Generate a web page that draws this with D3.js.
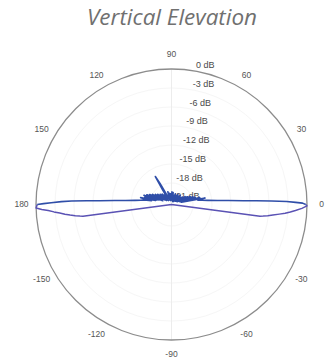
<!DOCTYPE html>
<html>
<head>
<meta charset="utf-8">
<script src="https://cdn.jsdelivr.net/npm/d3@7"></script>
<style>
  html, body { margin: 0; padding: 0; background: #fff; }
  svg { display: block; }
</style>
</head>
<body>
<svg id="chart" width="332" height="364"></svg>
<script>
// Elevation-plane radiation pattern (gain in dB vs. elevation angle)
const titleText = "Vertical Elevation";

// Radial gain rings (dB) and angular spokes (degrees)
const gainTicks = [0, -3, -6, -9, -12, -15, -18, -21];
const angleTicks = [0, 30, 60, 90, 120, 150, 180, -150, -120, -90, -60, -30];

// Upper half of the cut (0° → 180°), measured gain in dB
const upperAngles = [0, 0.6, 1, 1.5, 2, 2.5, 3, 4, 5, 6.5, 8, 9.5,
  11, 12.5, 14, 15.5, 17, 18.5, 20, 21.5, 23, 24.5, 26, 28, 30, 32, 34, 37, 40,
  43, 46, 49, 52, 55, 58, 61, 64, 67, 70, 73, 76, 79, 82, 85, 88, 91, 94, 97,
  100, 103, 106, 109, 112, 115, 117, 118.5, 120, 121.5, 123, 126, 129, 132, 135,
  138, 141, 143.5, 146, 148, 150, 152, 154, 155.5, 157, 158.5, 160, 161.5, 163,
  164.5, 166, 167.5, 169,
  170.5, 172, 173.5, 175, 176, 177, 177.5, 178, 178.5, 179.2, 179.6, 180];
const upperGain = [-0.2, -0.7, -1.8, -3.2, -5.6, -8.0, -10.0, -12.4, -14.1, -15.6, -16.5, -17.2,
  -16.0, -19.8, -16.8, -19.2, -17.5, -20.0, -17.8, -19.5, -18.2, -20.3, -18.6, -20.0, -18.9, -20.5, -19.3, -20.2, -19.6,
  -20.6, -19.4, -20.3, -19.7, -20.8, -19.5, -20.4, -19.8, -20.9, -19.6, -20.5, -19.9, -20.7, -19.5, -20.3, -19.4, -20.6, -19.7, -20.8,
  -19.6, -20.5, -19.3, -20.7, -19.8, -20.2, -19.4, -17.6, -16.3, -18.8, -20.4, -19.5, -20.6, -19.2, -20.3,
  -19.0, -20.4, -18.7, -20.1, -18.4, -19.8, -18.0, -19.6, -17.6, -19.9, -17.2, -19.3, -16.8, -19.0,
  -17.0, -18.8, -16.4, -18.2,
  -17.0, -16.5, -15.6, -14.1, -12.4, -10.0, -8.0, -5.6, -4.0, -2.4, -1.2, -0.2];

// Lower half of the cut (180° → 360°)
const lowerAngles = [180, 181.5, 182.2, 182.8, 183.6, 184.4, 185.2, 185.9, 186.6, 187.2, 187.6, 187.9,
  270, 352.1, 352.4, 352.8, 353.4, 354.1, 354.9, 355.6, 356.4, 357.2, 358.3, 359.4, 360];
const lowerGain = [-0.2, 0, -0.9, -1.9, -2.8, -3.7, -4.5, -5.3, -6.1, -6.8, -7.3, -21.4,
  -21.4, -21.4, -7.3, -6.8, -6.1, -5.3, -4.3, -3.4, -2.6, -1.8, -0.8, 0, -0.2];

const gainFloor = -21.4;

const svg = d3.select("#chart");
const W = 332, H = 364;
const cx = 171.5, cy = 204.5, R = 135.5;

svg.append("rect").attr("width", W).attr("height", H).attr("fill", "#fff");

svg.append("text")
  .attr("x", 172).attr("y", 25)
  .attr("text-anchor", "middle")
  .attr("font-family", "'Open Sans', sans-serif")
  .attr("font-style", "italic")
  .attr("font-size", 22)
  .attr("textLength", 170)
  .attr("lengthAdjust", "spacingAndGlyphs")
  .attr("fill", "#707070")
  .text(titleText);

const r = d3.scaleLinear().domain([gainFloor, 0]).range([0, R]).clamp(true);
const rad = d => d * Math.PI / 180;

const g = svg.append("g").attr("transform", `translate(${cx},${cy})`);

// very faint grid rings
g.selectAll("circle.ring").data(gainTicks.slice(1)).join("circle")
  .attr("class", "ring")
  .attr("r", d => r(d))
  .attr("fill", "none")
  .attr("stroke", "#f6f6f6")
  .attr("stroke-width", 1);

// faint vertical spoke (90 / -90)
g.selectAll("line.spoke").data(angleTicks.filter(d => Math.abs(d) === 90)).join("line")
  .attr("class", "spoke")
  .attr("x1", 0).attr("y1", 0)
  .attr("x2", d => R * Math.cos(rad(d)))
  .attr("y2", d => -R * Math.sin(rad(d)))
  .attr("stroke", "#ececec")
  .attr("stroke-width", 1);

// outer boundary
g.append("circle")
  .attr("r", r(0))
  .attr("fill", "none")
  .attr("stroke", "#8c8c8c")
  .attr("stroke-width", 1.3);

// angle labels
g.selectAll("text.ang").data(angleTicks).join("text")
  .attr("class", "ang")
  .attr("x", d => 150 * Math.cos(rad(d)))
  .attr("y", d => -150 * Math.sin(rad(d)))
  .attr("dy", "0.35em")
  .attr("text-anchor", "middle")
  .attr("font-family", "'Liberation Sans', Arial, sans-serif")
  .attr("font-size", 8.5)
  .attr("fill", "#555")
  .text(d => d);

// gain labels along a radial line
const labelAngle = 80;
g.selectAll("text.gain").data(gainTicks).join("text")
  .attr("class", "gain")
  .attr("x", d => (r(d) + 6) * Math.cos(rad(labelAngle)))
  .attr("y", d => -(r(d) + 6) * Math.sin(rad(labelAngle)))
  .attr("dy", "0.35em")
  .attr("font-family", "'Liberation Sans', Arial, sans-serif")
  .attr("font-size", 9)
  .attr("fill", "#4a4a4a")
  .text(d => `${d} dB`);

const radial = d3.lineRadial()
  .angle(d => rad(90 - d[0]))
  .radius(d => r(d[1]));

const upper = d3.zip(upperAngles, upperGain);
const lower = d3.zip(lowerAngles, lowerGain);

g.append("path")
  .attr("d", radial(lower))
  .attr("fill", "none")
  .attr("stroke", "#5a52b4")
  .attr("stroke-width", 1.5)
  .attr("stroke-linejoin", "round");

g.append("path")
  .attr("d", radial(upper))
  .attr("fill", "none")
  .attr("stroke", "#2f4ea8")
  .attr("stroke-width", 1.6)
  .attr("stroke-linejoin", "round");
</script>
</body>
</html>
